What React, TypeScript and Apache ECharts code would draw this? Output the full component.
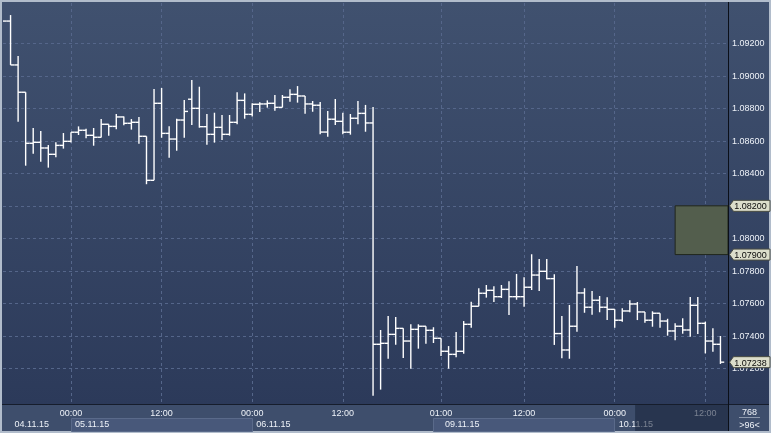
import React, { useEffect, useRef } from 'react';
import * as echarts from 'echarts';

// ---- hourly OHLC bars (96 bars visible) ----
const opens = [
  1.09337, 1.09337, 1.09067, 1.08899, 1.08585, 1.08591, 1.08556, 1.08517, 1.08572, 1.08597,
  1.08653, 1.08665, 1.08634, 1.08622, 1.08702, 1.08689, 1.08747, 1.08708, 1.08714, 1.08628,
  1.08357, 1.08831, 1.08646, 1.08611, 1.08728, 1.08856, 1.08800, 1.08687, 1.08640, 1.08683,
  1.08640, 1.08714, 1.08849, 1.08763, 1.08825, 1.08827, 1.08831, 1.08806, 1.08868, 1.08886,
  1.08876, 1.08827, 1.08819, 1.08654, 1.08733, 1.08720, 1.08653, 1.08739, 1.08769, 1.08710,
  1.07348, 1.07354, 1.07409, 1.07446, 1.07368, 1.07440, 1.07459, 1.07434, 1.07385, 1.07305,
  1.07286, 1.07305, 1.07471, 1.07582, 1.07662, 1.07680, 1.07641, 1.07686, 1.07641, 1.07641,
  1.07699, 1.07774, 1.07797, 1.07752, 1.07414, 1.07313, 1.07459, 1.07664, 1.07576, 1.07619,
  1.07576, 1.07563, 1.07496, 1.07553, 1.07596, 1.07547, 1.07496, 1.07539, 1.07491, 1.07430,
  1.07459, 1.07436, 1.07588, 1.07477, 1.07368, 1.07348,
];
const highs = [
  1.09337, 1.09374, 1.09122, 1.08899, 1.08679, 1.08660, 1.08574, 1.08591, 1.08648, 1.08653,
  1.08689, 1.08675, 1.08679, 1.08734, 1.08702, 1.08765, 1.08749, 1.08734, 1.08747, 1.08628,
  1.08919, 1.08925, 1.08689, 1.08736, 1.08851, 1.08974, 1.08933, 1.08765, 1.08773, 1.08759,
  1.08759, 1.08899, 1.08892, 1.08831, 1.08837, 1.08849, 1.08882, 1.08882, 1.08917, 1.08937,
  1.08876, 1.08845, 1.08839, 1.08784, 1.08857, 1.08773, 1.08765, 1.08845, 1.08821, 1.08808,
  1.07436, 1.07522, 1.07516, 1.07446, 1.07471, 1.07471, 1.07459, 1.07453, 1.07385, 1.07337,
  1.07424, 1.07491, 1.07610, 1.07693, 1.07713, 1.07705, 1.07713, 1.07736, 1.07781, 1.07760,
  1.07902, 1.07873, 1.07873, 1.07779, 1.07522, 1.07590, 1.07830, 1.07693, 1.07676, 1.07645,
  1.07637, 1.07563, 1.07569, 1.07619, 1.07608, 1.07547, 1.07551, 1.07539, 1.07505, 1.07477,
  1.07508, 1.07639, 1.07639, 1.07487, 1.07446, 1.07399,
];
const lows = [
  1.09337, 1.09067, 1.08718, 1.08447, 1.08521, 1.08472, 1.08435, 1.08499, 1.08552, 1.08589,
  1.08636, 1.08616, 1.08570, 1.08621, 1.08632, 1.08671, 1.08696, 1.08669, 1.08582, 1.08333,
  1.08357, 1.08619, 1.08496, 1.08539, 1.08619, 1.08697, 1.08681, 1.08576, 1.08589, 1.08605,
  1.08632, 1.08702, 1.08736, 1.08749, 1.08777, 1.08804, 1.08785, 1.08806, 1.08841, 1.08835,
  1.08767, 1.08779, 1.08640, 1.08625, 1.08697, 1.08640, 1.08638, 1.08702, 1.08656, 1.07032,
  1.07069, 1.07259, 1.07345, 1.07264, 1.07198, 1.07321, 1.07352, 1.07356, 1.07276, 1.07198,
  1.07268, 1.07290, 1.07450, 1.07582, 1.07635, 1.07608, 1.07633, 1.07528, 1.07622, 1.07579,
  1.07682, 1.07676, 1.07748, 1.07344, 1.07262, 1.07259, 1.07425, 1.07542, 1.07530, 1.07545,
  1.07497, 1.07450, 1.07487, 1.07545, 1.07497, 1.07481, 1.07456, 1.07450, 1.07401, 1.07373,
  1.07413, 1.07395, 1.07411, 1.07292, 1.07302, 1.07227,
];
const closes = [
  1.09337, 1.09067, 1.08899, 1.08585, 1.08591, 1.08556, 1.08517, 1.08572, 1.08597, 1.08653,
  1.08665, 1.08634, 1.08622, 1.08702, 1.08689, 1.08747, 1.08708, 1.08714, 1.08628, 1.08357,
  1.08831, 1.08646, 1.08611, 1.08728, 1.08781, 1.08800, 1.08687, 1.08640, 1.08683, 1.08640,
  1.08714, 1.08849, 1.08763, 1.08825, 1.08827, 1.08831, 1.08806, 1.08868, 1.08886, 1.08876,
  1.08827, 1.08819, 1.08654, 1.08733, 1.08720, 1.08653, 1.08739, 1.08769, 1.08710, 1.07348,
  1.07354, 1.07409, 1.07446, 1.07368, 1.07440, 1.07459, 1.07434, 1.07385, 1.07305, 1.07286,
  1.07305, 1.07471, 1.07582, 1.07662, 1.07680, 1.07641, 1.07686, 1.07641, 1.07641, 1.07699,
  1.07774, 1.07797, 1.07752, 1.07414, 1.07313, 1.07459, 1.07664, 1.07576, 1.07619, 1.07576,
  1.07563, 1.07496, 1.07553, 1.07596, 1.07547, 1.07496, 1.07539, 1.07491, 1.07430, 1.07459,
  1.07436, 1.07588, 1.07477, 1.07368, 1.07348, 1.07238,
];

// ---- axes ----
const xMin = 0;
const xMax = 96;
const yMin = 1.069805;
const yMax = 1.094482;
const yGridValues = [1.072, 1.074, 1.076, 1.078, 1.08, 1.082, 1.084, 1.086, 1.088, 1.09, 1.092];
const yLabelValues = [1.072, 1.074, 1.076, 1.078, 1.08, 1.084, 1.086, 1.088, 1.09, 1.092];
const timeTickIdx = [9, 21, 33, 45, 58, 69, 81, 93];
const timeTickLabels = ['00:00', '12:00', '00:00', '12:00', '01:00', '12:00', '00:00', '12:00'];
const dateTickIdx = [1, 9, 33, 58, 81];
const dateLabels = ['04.11.15', '05.11.15', '06.11.15', '09.11.15', '10.11.15'];
const dayBoxRanges = [[9, 33], [57, 81]];
const sessionStartIdx = 83.7;

// ---- annotations ----
const zoneTop = 1.082;
const zoneBottom = 1.079;
const zoneStartIdx = 89;
const priceTags = [1.082, 1.079, 1.07238];
const barsTotal = '768';
const barsVisible = '>96<';

const FONT = '"Liberation Sans", Arial, sans-serif';
const TXT = '#eef2f8';

export default function App() {
  const ref = useRef<HTMLDivElement>(null);
  useEffect(() => {
    document.body.style.margin = '0';
    const chart = echarts.init(ref.current as HTMLDivElement, null, { renderer: 'svg' });
    const data = opens.map((o, i) => [i, o, highs[i], lows[i], closes[i]]);
    chart.setOption({
      animation: false,
      grid: { left: 3, right: 43, top: 3, bottom: 29, containLabel: false, outerBoundsMode: 'none' },
      xAxis: [
        {
          type: 'value', min: xMin, max: xMax, position: 'bottom',
          axisLine: { show: false },
          axisTick: { show: false, customValues: timeTickIdx },
          axisLabel: {
            customValues: timeTickIdx,
            formatter: (v: number) => timeTickLabels[timeTickIdx.indexOf(v)] ?? '',
            color: TXT, fontSize: 9, fontFamily: FONT, margin: 4,
          },
          splitLine: { show: true, lineStyle: { color: '#55668a', type: [3, 3], width: 1 } },
        },
        {
          type: 'value', min: xMin, max: xMax, position: 'bottom',
          axisLine: { show: false },
          axisTick: { show: false, customValues: dateTickIdx },
          axisLabel: {
            customValues: dateTickIdx,
            formatter: (v: number) => dateLabels[dateTickIdx.indexOf(v)] ?? '',
            color: TXT, fontSize: 9, fontFamily: FONT, margin: 15, align: 'left',
            padding: [0, 0, 0, 4],
          },
          splitLine: { show: false },
        },
      ],
      yAxis: {
        type: 'value', min: yMin, max: yMax, position: 'right',
        axisLine: { show: false },
        axisTick: { show: false, customValues: yGridValues },
        axisLabel: {
          customValues: yLabelValues,
          formatter: (v: number) => v.toFixed(5),
          color: TXT, fontSize: 9, fontFamily: FONT, margin: 4,
        },
        splitLine: { show: true, lineStyle: { color: '#55668a', type: [3, 3], width: 1 } },
      },
      series: [
        {
          type: 'custom',
          xAxisIndex: 0,
          yAxisIndex: 0,
          clip: true,
          encode: { x: 0, y: [1, 2, 3, 4] },
          data,
          renderItem: (params: any, api: any) => {
            const i = api.value(0);
            const p = api.coord([i, api.value(1)]);
            const x = p[0];
            const yO = p[1];
            const yH = api.coord([i, api.value(2)])[1];
            const yL = api.coord([i, api.value(3)])[1];
            const yC = api.coord([i, api.value(4)])[1];
            const hw = api.size([1, 0])[0] / 2;
            const style = { stroke: '#ffffff', lineWidth: 1.4, fill: null };
            return {
              type: 'group',
              children: [
                { type: 'line', shape: { x1: x, y1: yH, x2: x, y2: yL }, style },
                { type: 'line', shape: { x1: x - hw, y1: yO, x2: x, y2: yO }, style },
                { type: 'line', shape: { x1: x, y1: yC, x2: x + hw, y2: yC }, style },
              ],
            };
          },
          markArea: {
            silent: true,
            itemStyle: { color: '#535e4d', borderColor: '#20261c', borderWidth: 1 },
            data: [[{ xAxis: zoneStartIdx, yAxis: zoneTop }, { xAxis: xMax, yAxis: zoneBottom }]],
          },
        },
      ],
    });

    const px = (i: number) => chart.convertToPixel({ xAxisIndex: 0 }, i) as number;
    const py = (v: number) => chart.convertToPixel({ yAxisIndex: 0 }, v) as number;
    const W = 771;
    const H = 433;
    const axisX = 728.5;
    const sepY = 404.5;

    const graphics: any[] = [
      { type: 'rect', z: -20, silent: true, shape: { x: 0, y: 0, width: W, height: H }, style: { fill: '#b1bccb' } },
      {
        type: 'rect', z: -19, silent: true, shape: { x: 2, y: 2, width: W - 4, height: 402 },
        style: {
          fill: new echarts.graphic.LinearGradient(0, 0, 0, 1, [
            { offset: 0, color: '#40516f' },
            { offset: 1, color: '#2c3a5a' },
          ]),
        },
      },
      { type: 'rect', z: -19, silent: true, shape: { x: 2, y: 405, width: W - 4, height: 26 }, style: { fill: '#3e4e6c' } },
    ];
    dayBoxRanges.forEach(([a, b]) => {
      graphics.push({
        type: 'rect', z: -18, silent: true,
        shape: { x: Math.round(px(a)) + 0.5, y: 418.5, width: Math.round(px(b) - px(a)), height: 13 },
        style: { fill: '#48587a', stroke: '#5a6a8a', lineWidth: 1 },
      });
    });
    graphics.push(
      { type: 'line', z: 5, silent: true, shape: { x1: 2, y1: sepY, x2: W - 2, y2: sepY }, style: { stroke: '#161d2c', lineWidth: 1 } },
      { type: 'line', z: 5, silent: true, shape: { x1: axisX, y1: 2, x2: axisX, y2: H - 2 }, style: { stroke: '#0b0f18', lineWidth: 1 } },
      {
        type: 'rect', z: 10, silent: true,
        shape: { x: px(sessionStartIdx), y: 405, width: axisX - px(sessionStartIdx) - 0.5, height: 26 },
        style: { fill: 'rgba(22,32,56,0.55)' },
      },
      { type: 'text', z: 10, silent: true, x: 749.5, y: 412, style: { text: barsTotal, fill: TXT, fontSize: 9, fontFamily: FONT, align: 'center', verticalAlign: 'middle' } },
      { type: 'line', z: 10, silent: true, shape: { x1: 739, y1: 417.5, x2: 760, y2: 417.5 }, style: { stroke: '#8d99ad', lineWidth: 1 } },
      { type: 'text', z: 10, silent: true, x: 749.5, y: 424.5, style: { text: barsVisible, fill: TXT, fontSize: 9, fontFamily: FONT, align: 'center', verticalAlign: 'middle' } },
    );
    priceTags.forEach((v) => {
      const y = py(v);
      graphics.push({
        type: 'polygon', z: 20, silent: true,
        shape: { points: [[729.5, y], [733.5, y - 5.5], [770, y - 5.5], [770, y + 5.5], [733.5, y + 5.5]] },
        style: { fill: '#dcdecb', stroke: '#4a4c42', lineWidth: 1 },
      });
      graphics.push({
        type: 'text', z: 21, silent: true, x: 750.5, y: y + 0.5,
        style: { text: v.toFixed(5), fill: '#0a0a0a', fontSize: 9, fontFamily: FONT, align: 'center', verticalAlign: 'middle' },
      });
    });
    chart.setOption({ graphic: graphics });
    return () => chart.dispose();
  }, []);
  return <div ref={ref} style={{ position: 'fixed', left: 0, top: 0, width: 771, height: 433 }} />;
}
